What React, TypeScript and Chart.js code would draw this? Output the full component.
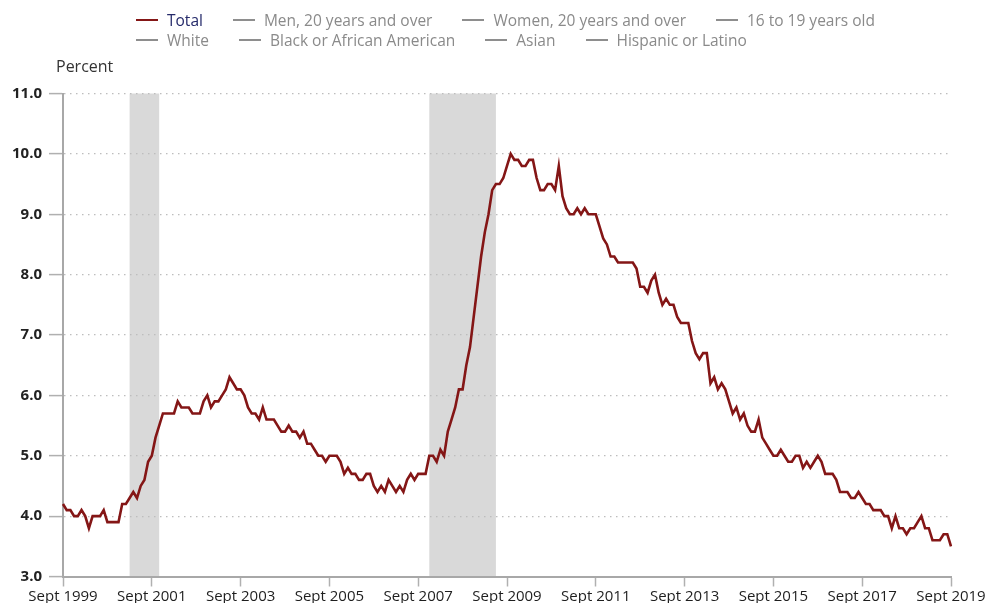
import React, { useEffect, useRef } from 'react';
import { Chart, registerables } from 'chart.js';

Chart.register(...registerables);

// ---- Data ----
const monthNames = ['Jan', 'Feb', 'Mar', 'Apr', 'May', 'June', 'July', 'Aug', 'Sept', 'Oct', 'Nov', 'Dec'];
const firstYear = 1999;
const firstMonthIndex = 8; // Sept

const rate1999 = [4.2, 4.1, 4.1, 4.0];
const rate2000 = [4.0, 4.1, 4.0, 3.8, 4.0, 4.0, 4.0, 4.1, 3.9, 3.9, 3.9, 3.9];
const rate2001 = [4.2, 4.2, 4.3, 4.4, 4.3, 4.5, 4.6, 4.9, 5.0, 5.3, 5.5, 5.7];
const rate2002 = [5.7, 5.7, 5.7, 5.9, 5.8, 5.8, 5.8, 5.7, 5.7, 5.7, 5.9, 6.0];
const rate2003 = [5.8, 5.9, 5.9, 6.0, 6.1, 6.3, 6.2, 6.1, 6.1, 6.0, 5.8, 5.7];
const rate2004 = [5.7, 5.6, 5.8, 5.6, 5.6, 5.6, 5.5, 5.4, 5.4, 5.5, 5.4, 5.4];
const rate2005 = [5.3, 5.4, 5.2, 5.2, 5.1, 5.0, 5.0, 4.9, 5.0, 5.0, 5.0, 4.9];
const rate2006 = [4.7, 4.8, 4.7, 4.7, 4.6, 4.6, 4.7, 4.7, 4.5, 4.4, 4.5, 4.4];
const rate2007 = [4.6, 4.5, 4.4, 4.5, 4.4, 4.6, 4.7, 4.6, 4.7, 4.7, 4.7, 5.0];
const rate2008 = [5.0, 4.9, 5.1, 5.0, 5.4, 5.6, 5.8, 6.1, 6.1, 6.5, 6.8, 7.3];
const rate2009 = [7.8, 8.3, 8.7, 9.0, 9.4, 9.5, 9.5, 9.6, 9.8, 10.0, 9.9, 9.9];
const rate2010 = [9.8, 9.8, 9.9, 9.9, 9.6, 9.4, 9.4, 9.5, 9.5, 9.4, 9.8, 9.3];
const rate2011 = [9.1, 9.0, 9.0, 9.1, 9.0, 9.1, 9.0, 9.0, 9.0, 8.8, 8.6, 8.5];
const rate2012 = [8.3, 8.3, 8.2, 8.2, 8.2, 8.2, 8.2, 8.1, 7.8, 7.8, 7.7, 7.9];
const rate2013 = [8.0, 7.7, 7.5, 7.6, 7.5, 7.5, 7.3, 7.2, 7.2, 7.2, 6.9, 6.7];
const rate2014 = [6.6, 6.7, 6.7, 6.2, 6.3, 6.1, 6.2, 6.1, 5.9, 5.7, 5.8, 5.6];
const rate2015 = [5.7, 5.5, 5.4, 5.4, 5.6, 5.3, 5.2, 5.1, 5.0, 5.0, 5.1, 5.0];
const rate2016 = [4.9, 4.9, 5.0, 5.0, 4.8, 4.9, 4.8, 4.9, 5.0, 4.9, 4.7, 4.7];
const rate2017 = [4.7, 4.6, 4.4, 4.4, 4.4, 4.3, 4.3, 4.4, 4.3, 4.2, 4.2, 4.1];
const rate2018 = [4.1, 4.1, 4.0, 4.0, 3.8, 4.0, 3.8, 3.8, 3.7, 3.8, 3.8, 3.9];
const rate2019 = [4.0, 3.8, 3.8, 3.6, 3.6, 3.6, 3.7, 3.7, 3.5];

const totalRate = [
  ...rate1999, ...rate2000, ...rate2001, ...rate2002, ...rate2003, ...rate2004,
  ...rate2005, ...rate2006, ...rate2007, ...rate2008, ...rate2009, ...rate2010,
  ...rate2011, ...rate2012, ...rate2013, ...rate2014, ...rate2015, ...rate2016,
  ...rate2017, ...rate2018, ...rate2019,
];

const monthLabels: string[] = totalRate.map((_, i) => {
  const m = firstMonthIndex + i;
  return `${monthNames[m % 12]} ${firstYear + Math.floor(m / 12)}`;
});

const tickEvery = 24; // a labelled tick every two years (Sept)

const recessionStarts = ['Mar 2001', 'Dec 2007'];
const recessionEnds = ['Nov 2001', 'June 2009'];

const seriesNames = [
  'Total',
  'Men, 20 years and over',
  'Women, 20 years and over',
  '16 to 19 years old',
  'White',
  'Black or African American',
  'Asian',
  'Hispanic or Latino',
];

const yMin = 3;
const yMax = 11;
const yTickUnit = 'Percent';

// ---- Styles ----
const totalColor = '#841616';
const otherColor = '#8e8e8e';
const FONT = '"Open Sans", "Noto Sans", sans-serif';

const recessionPlugin = {
  id: 'recessions',
  beforeDraw(chart: any) {
    const { ctx, chartArea, scales } = chart;
    const x = scales.x;
    ctx.save();
    ctx.fillStyle = '#d9d9d9';
    recessionStarts.forEach((s, k) => {
      const i0 = monthLabels.indexOf(s);
      const i1 = monthLabels.indexOf(recessionEnds[k]);
      const p0 = x.getPixelForValue(i0);
      const p1 = x.getPixelForValue(i1);
      ctx.fillRect(p0, chartArea.top, p1 - p0, chartArea.bottom - chartArea.top);
    });
    ctx.restore();
  },
};

const unitLabelPlugin = {
  id: 'unitLabel',
  afterDraw(chart: any) {
    const { ctx, chartArea } = chart;
    ctx.save();
    ctx.font = `16px ${FONT}`;
    ctx.fillStyle = '#333333';
    ctx.textAlign = 'left';
    ctx.textBaseline = 'middle';
    ctx.fillText(yTickUnit, chartArea.left - 7, chartArea.top - 26);
    ctx.restore();
  },
};

function Legend() {
  const rows = [seriesNames.slice(0, 4), seriesNames.slice(4)];
  return (
    <div style={{ position: 'absolute', left: 136, top: 10, fontFamily: FONT, fontSize: 15.5, lineHeight: '20px' }}>
      {rows.map((row, r) => (
        <div key={r} style={{ display: 'flex', alignItems: 'center', height: 20, whiteSpace: 'nowrap' }}>
          {row.map((name) => {
            const isTotal = name === 'Total';
            return (
              <div key={name} style={{ display: 'flex', alignItems: 'center', marginRight: 30 }}>
                <span style={{ display: 'inline-block', width: 22, height: 2.5, background: isTotal ? totalColor : otherColor, marginRight: 9 }} />
                <span style={{ color: isTotal ? '#252a6a' : '#8a8a8a' }}>{name}</span>
              </div>
            );
          })}
        </div>
      ))}
    </div>
  );
}

export default function App() {
  const canvasRef = useRef<HTMLCanvasElement | null>(null);

  useEffect(() => {
    if (!canvasRef.current) return;
    const chart = new Chart(canvasRef.current, {
      type: 'line',
      data: {
        labels: monthLabels,
        datasets: [
          {
            label: seriesNames[0],
            data: totalRate,
            borderColor: totalColor,
            borderWidth: 2.6,
            pointRadius: 0,
            tension: 0,
            fill: false,
          },
        ],
      },
      plugins: [recessionPlugin, unitLabelPlugin],
      options: {
        animation: false,
        responsive: true,
        maintainAspectRatio: false,
        layout: { padding: { top: 93.5, right: 36, left: 0, bottom: 0 } },
        plugins: {
          legend: { display: false },
          tooltip: { enabled: false },
          title: { display: false },
        },
        scales: {
          x: {
            type: 'category',
            offset: false,
            grid: {
              drawOnChartArea: false,
              drawTicks: true,
              tickLength: 10,
              tickColor: '#b0b0b0',
              tickWidth: 1.5,
            },
            border: { display: true, color: '#a8a8a8', width: 2 },
            ticks: {
              autoSkip: false,
              maxRotation: 0,
              minRotation: 0,
              padding: 1,
              color: '#1e1e1e',
              font: { family: FONT, size: 15 },
              callback: (_v: any, i: number) => (i % tickEvery === 0 ? monthLabels[i] : null),
            },
            afterFit: (scale: any) => {
              scale.height = 26.5;
            },
          },
          y: {
            min: yMin,
            max: yMax,
            grid: {
              color: '#bdbdbd',
              lineWidth: 1.2,
              tickLength: 14,
              tickColor: '#b0b0b0',
              tickBorderDash: [],
              tickWidth: 1.5,
            },
            border: { display: true, color: '#a8a8a8', width: 2, dash: [1.5, 4.5] },
            ticks: {
              stepSize: 1,
              padding: 7,
              color: '#222222',
              font: { family: FONT, size: 15, weight: 'bold' },
              callback: (v: any) => Number(v).toFixed(1),
            },
            afterFit: (scale: any) => {
              scale.width = 63;
            },
          },
        },
      } as any,
    });
    return () => chart.destroy();
  }, []);

  return (
    <div style={{ position: 'fixed', left: 0, top: 0, width: 987, height: 603, background: '#ffffff' }}>
      <canvas ref={canvasRef} />
      <Legend />
    </div>
  );
}
